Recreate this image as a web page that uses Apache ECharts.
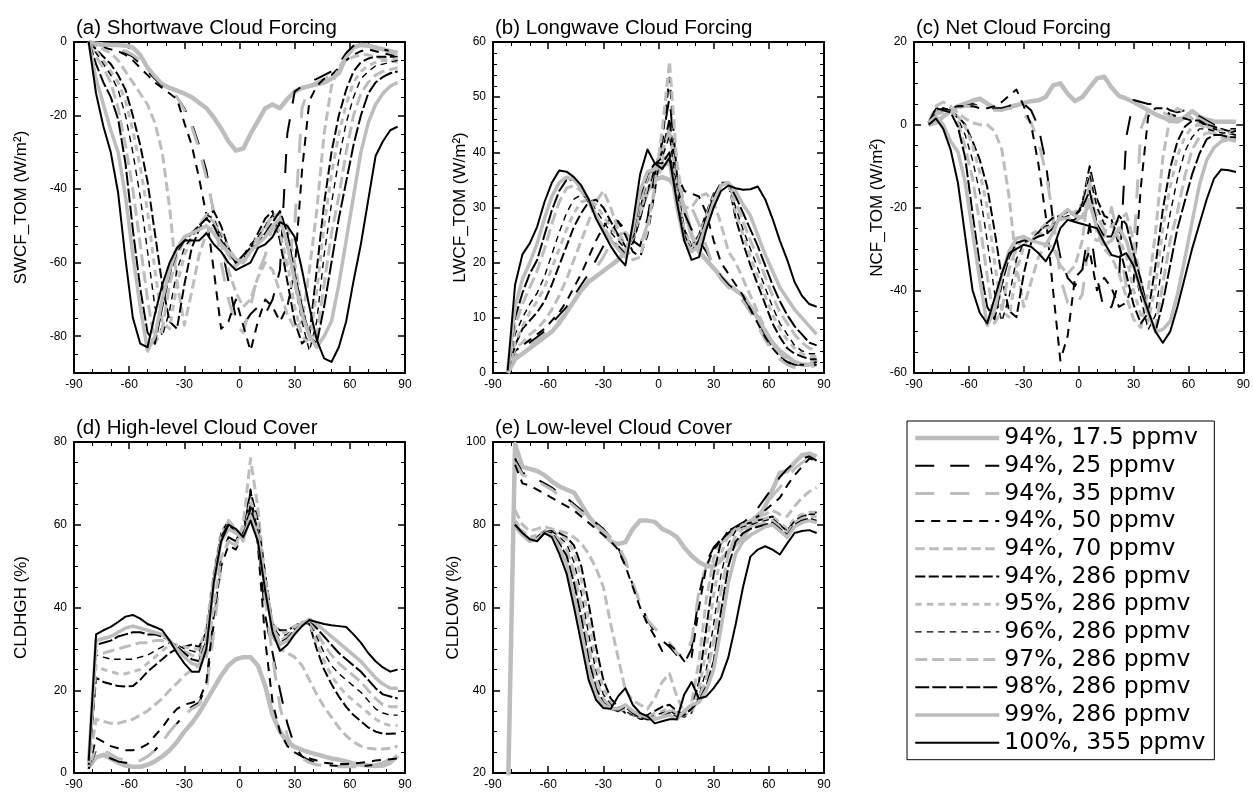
<!DOCTYPE html>
<html>
<head>
<meta charset="utf-8">
<script src="https://cdn.jsdelivr.net/npm/echarts@6/dist/echarts.min.js"></script>
<style>
  html, body { margin: 0; padding: 0; background: #fff; }
  #chart { width: 1253px; height: 798px; }
</style>
</head>
<body>
<div id="chart"></div>
<script>
// latitude of each point
const lats = [-82, -78, -74, -70, -66, -62, -58, -54, -50, -46, -42, -38, -34, -30, -26, -22, -18, -14, -10, -6,
  -2, 2, 6, 10, 14, 18, 22, 26, 30, 34, 38, 42, 46, 50, 54, 58, 62, 66, 70, 74, 78, 82, 86];

const caseNames = ['94%, 17.5 ppmv', '94%, 25 ppmv', '94%, 35 ppmv', '94%, 50 ppmv', '94%, 70 ppmv', '94%, 286 ppmv',
  '95%, 286 ppmv', '96%, 286 ppmv', '97%, 286 ppmv', '98%, 286 ppmv', '99%, 286 ppmv', '100%, 355 ppmv'];

const xTicks = [-90, -60, -30, 0, 30, 60, 90];

// (a) shortwave cloud forcing, one row per case
const swcf = [
  [0, -0.5, -0.7, -0.8, -0.8, -1, -1.5, -3.5, -7, -9.5, -11.5, -12.5, -13.2, -14, -15, -16.5, -18, -20.5, -23.5, -27, -29.5, -29, -25, -21.5, -18, -17, -18, -15.5, -13.5, -12.5, -12, -11.5, -11, -10, -8.5, -4, -1.5, -0.8, -1, -1.5, -2, -2.5, -3],
  [0, -0.5, -1, -1.5, -2, -3, -4, -6, -8, -10, -12, -13.5, -15, -18, -22, -28, -35, -47, -55, -65, -75, -77, -74, -72, -74, -70, -62, -25, -13.5, -12, -11, -10, -9, -8, -6, -3, -1, -1, -1, -1.5, -2, -2.5, -3],
  [0, -0.5, -1, -1.5, -2, -2.5, -3.5, -5, -7, -9.5, -11.5, -13, -15, -18.5, -23, -29, -37, -46, -60, -70, -77, -79, -72, -63, -58, -50, -55, -62, -50, -18, -12, -11, -10, -9, -7, -4, -2, -1, -1, -1.5, -2, -2.5, -3],
  [0, -1, -1.5, -2, -2.5, -3.5, -5, -7, -9, -11, -12.5, -14, -15.5, -22, -28, -37, -47, -62, -78, -76, -70, -77, -84, -76, -70, -72, -76, -72, -62, -35, -16, -12, -10, -9, -7, -5, -3.5, -2.5, -2, -2.5, -3, -3.5, -4],
  [0, -1, -2, -3, -5, -8, -11, -14, -17, -22, -30, -45, -65, -77, -68, -58, -52, -50, -55, -62, -68, -72, -70, -64, -60, -62, -68, -74, -78, -76, -62, -46, -25, -12, -7, -5, -4, -3.5, -3.5, -4, -4.5, -5, -5.5],
  [0, -2, -4, -6, -9, -13, -20, -28, -38, -52, -66, -76, -78, -66, -56, -51, -47, -46, -50, -56, -60, -59, -56, -52, -48, -46, -54, -65, -76, -82, -80, -62, -44, -30, -20, -13, -8, -5.5, -4.5, -4, -4, -4, -4],
  [0, -2.5, -5, -8, -11, -16, -24, -34, -46, -62, -76, -78, -66, -58, -53, -50, -47, -48, -52, -56, -59, -59, -56, -53, -50, -47, -52, -60, -72, -80, -82, -68, -50, -36, -25, -17, -11, -8, -6.5, -5.5, -5, -5, -4.5],
  [0, -3, -6, -9, -13, -20, -30, -42, -57, -72, -80, -73, -62, -56, -53, -50, -47, -48, -53, -57, -60, -58, -55, -53, -50, -47, -50, -56, -66, -76, -84, -76, -58, -44, -32, -22, -15, -10, -8, -6.5, -6, -5.5, -5],
  [0, -4, -7, -11, -18, -28, -40, -55, -70, -82, -78, -66, -58, -54, -52, -50, -47, -49, -54, -58, -61, -59, -57, -54, -51, -47, -47, -50, -60, -72, -80, -80, -66, -52, -42, -30, -20, -14, -11, -9, -8, -7.5, -7],
  [0, -6, -11, -15, -21, -33, -51, -67, -79, -82, -72, -63, -57, -54, -52, -50, -48, -50, -54, -57, -60, -58, -56, -55, -52, -49, -46, -52, -63, -72, -80, -82, -72, -60, -48, -38, -28, -20, -14, -11, -9.5, -8.5, -8],
  [0, -10, -17, -24, -30, -42, -58, -72, -84, -80, -70, -62, -56, -53, -52, -51, -50, -52, -55, -57, -59, -60, -57, -55, -53, -50, -48, -55, -65, -74, -80, -83, -80, -76, -66, -54, -42, -30, -22, -17, -14, -12, -11],
  [0, -14, -23, -30, -41, -59, -75, -82, -83, -74, -66, -60, -56, -54, -54, -54, -52, -55, -57, -60, -62, -61, -60, -56, -55, -53, -49, -50, -53, -62, -72, -81, -86, -87, -83, -76, -65, -55, -43, -31, -27, -24, -23]
];

// (b) longwave cloud forcing
const lwcf = [
  [0, 2.5, 3.5, 4.5, 5.5, 6.5, 7.5, 9, 11, 13, 15, 16.5, 17.5, 18.5, 19.5, 20.5, 22, 24.5, 29, 33, 35, 35.5, 35, 33.5, 30, 25, 22, 20.5, 19, 17.5, 16, 15, 14, 12, 10, 7.5, 5.5, 4, 3, 2, 1.5, 1.5, 2.5],
  [0.5, 3, 4.5, 5.5, 6.5, 7.5, 9, 10.5, 12, 14, 16, 18, 20.5, 23, 25.5, 27.5, 26, 24, 23, 28, 36, 42, 50, 35, 29, 26, 24, 22, 19.5, 17.5, 16, 15, 13.5, 11.5, 9, 6.5, 4.5, 3, 2, 1.5, 1.5, 1.5, 2],
  [0.5, 3, 4, 5, 6, 7, 8, 9.5, 11, 13, 15, 17, 19, 21, 23.5, 25, 25.5, 24, 23, 27, 33, 38, 45, 35, 31, 30, 27, 23, 19, 17, 15.5, 14.5, 13, 11, 8.5, 6, 4, 2.5, 1.5, 1, 1, 1, 1.5],
  [0.5, 4, 5, 6, 7, 8, 9.5, 11, 13, 15.5, 18, 21, 24, 26.5, 28, 27.5, 25, 22, 21, 25, 33, 42, 53.5, 36, 33, 32.5, 32, 29, 24, 20, 18, 16, 14, 11.5, 9, 6.5, 4.5, 3, 2, 1.5, 1.5, 1.5, 1.5],
  [0.5, 4.5, 5.5, 7, 8, 9.5, 11.5, 14, 17, 20.5, 24, 27.5, 31, 33, 30, 26, 23, 20.5, 21, 26, 34, 44, 56.5, 38, 30, 30, 32, 32.5, 31, 27, 22, 20, 17, 14, 11, 8, 5.5, 3.5, 2.5, 2, 1.5, 1.5, 2],
  [0.5, 5, 8, 9.5, 11, 13, 16, 19.5, 23, 26.5, 29, 31, 31.4, 30, 27.5, 25, 23, 23.5, 28, 33, 37, 40, 46, 34, 26, 23, 25, 29, 32.5, 34, 34.5, 28, 23.5, 19.5, 16, 12.5, 9, 6.5, 4.5, 3.5, 3, 2.5, 2.5],
  [0.5, 5.5, 8.5, 11, 13, 15.5, 19, 22.5, 26, 29, 31, 31.5, 30.5, 28.5, 26.5, 24.5, 23, 24, 29, 34, 38, 40, 44, 33, 26, 23, 24.5, 28.5, 32, 34, 34.5, 29, 25, 21, 17.5, 14, 10.5, 8, 6, 4.5, 3.5, 3, 3],
  [0.5, 7, 10, 12.5, 14.5, 17.5, 21.5, 25.5, 29, 31.5, 32.3, 31.5, 29.5, 27.5, 25.5, 24, 22.5, 24, 30, 35, 38, 39, 43, 33, 26, 23, 24, 28.5, 32, 34, 34.5, 30, 26, 22.5, 19, 15.5, 12, 9, 7, 5, 4, 3.5, 3.5],
  [0.5, 8.5, 12.5, 15.5, 18.5, 22.5, 27, 31, 33.5, 34, 33, 31, 28.5, 26.5, 24.5, 23, 22, 24.5, 31, 35.5, 37.5, 37, 39, 32, 25.5, 22.5, 24, 28.5, 32, 34, 34.5, 31, 27.5, 24, 21, 17.5, 14, 11, 9, 7, 5.5, 4.5, 4],
  [0.5, 10, 14.5, 18, 20.5, 25, 29.5, 33, 35, 35, 33.5, 31, 28.5, 26, 24, 23, 21.5, 25, 32, 36, 38, 38, 40, 31, 25, 22, 24, 28, 32, 34.5, 34.5, 32, 29, 26, 23, 19.5, 16, 13, 10.5, 8.5, 7, 5.5, 5],
  [0.5, 12, 17, 20, 23.5, 28, 32, 34.5, 35.5, 35, 33.5, 31.5, 28.5, 26, 24, 22.5, 21, 26, 33, 36.5, 37, 37.5, 38, 30, 24, 22, 23, 27, 31, 34, 34.5, 33, 30.5, 28.5, 25, 21.5, 18.5, 15.5, 13.5, 11.5, 10, 8.5, 7],
  [0.5, 16, 21.5, 23.5, 26.5, 31, 34.5, 36.7, 36.5, 35.5, 34, 31.5, 28, 25.5, 23, 21, 19.5, 27, 36, 40.5, 38, 37, 39, 31, 24, 20.5, 21, 26, 30, 33, 34, 33.5, 33.2, 33.3, 33.8, 31.5, 28, 24, 20.5, 16.5, 14, 12.5, 12]
];

// (c) net cloud forcing
const ncf = [
  [0, 0.5, 2, 3.3, 4.5, 5.1, 5.8, 6.3, 5.1, 4, 3.7, 4.3, 4.7, 5.3, 5.7, 5.9, 6.7, 9.5, 10, 7.5, 5.7, 6.7, 9, 11.2, 11.6, 9, 7, 6.3, 5.5, 4.5, 3.5, 2.5, 1.8, 1, 0.8, 1.8, 3.3, 2, 1.2, 0.8, 0.7, 0.7, 0.7],
  [0.5, 2.5, 3.5, 4, 4.5, 4.5, 5, 4.5, 4, 4, 4, 4.5, 5.5, 5, 3.5, -0.5, -9, -23, -32, -37, -39, -35, -24, -37, -45, -44, -38, -3, 6, 5.5, 5, 5, 4.5, 3.5, 3, 3.5, 3.5, 2, 1, 0, -0.5, -1, -1],
  [0.5, 2.5, 3, 3.5, 4, 4.5, 4.5, 4.5, 4, 3.5, 3.5, 4, 4, 2.5, 0.5, -4, -11.5, -22, -37, -43, -44, -41, -27, -28, -27, -20, -28, -39, -31, -1, 3.5, 3.5, 3, 2, 1.5, 2, 2, 1.5, 0.5, -0.5, -1, -1.5, -1.5],
  [0.5, 3, 3.5, 4, 4.5, 4.5, 4.5, 4, 4, 4.5, 5.5, 7, 8.5, 4.5, 0, -9.5, -22, -40, -57, -51, -37, -35, -30.5, -40, -37, -39.5, -44, -43, -38, -15, 2, 4, 4, 2.5, 2, 1.5, 1, 0.5, 0, -1, -1.5, -2, -2.5],
  [0.5, 3.5, 3.5, 4, 3, 1.5, 0.5, 0, 0, -1.5, -6, -17.5, -34, -44, -38, -32, -29, -29.5, -34, -36, -34, -28, -13.5, -26, -30, -32, -36, -41.5, -47, -49, -40, -26, -8, 2, 4, 3, 1.5, 0, -1, -2, -3, -3.5, -3.5],
  [0.5, 3, 4, 3.5, 2, 0, -4, -8.5, -15, -25.5, -37, -45, -46.5, -36, -28.5, -26, -24, -22.5, -22, -23, -23, -19, -10, -18, -22, -23, -29, -36, -43.5, -48, -45.5, -34, -20.5, -10.5, -4, -0.5, 1, 1, 0, -0.5, -1, -1.5, -1.5],
  [0.5, 3, 3.5, 3, 2, -0.5, -5, -11.5, -20, -33, -45, -46.5, -35.5, -29.5, -26.5, -25.5, -24, -24, -23, -22, -21, -19, -12, -20, -24, -24, -27.5, -31.5, -40, -46, -47.5, -39, -25, -15, -7.5, -3, -0.5, 0, -0.5, -1, -1.5, -2, -1.5],
  [0.5, 4, 4, 3.5, 1.5, -2.5, -8.5, -16.5, -28, -40.5, -47.5, -41.5, -32.5, -28.5, -27.5, -26, -24.5, -24, -23, -22, -22, -19, -12, -20, -24, -24, -26, -27.5, -34, -42, -49.5, -46, -32, -21.5, -13, -6.5, -3, -1, -1, -1.5, -2, -2, -1.5],
  [0.5, 4.5, 5.5, 4.5, 0.5, -5.5, -13, -24, -36.5, -48, -45, -35, -29.5, -27.5, -27.5, -27, -25, -24.5, -23, -22.5, -23.5, -22, -18, -22, -25.5, -24.5, -23, -21.5, -28, -38, -45.5, -49, -38.5, -28, -21, -12.5, -6, -3, -2, -2, -2.5, -3, -3],
  [0.5, 4, 3.5, 3, -0.5, -8, -21.5, -34, -44, -47, -38.5, -32, -28.5, -28, -28, -27, -26.5, -25, -22, -21, -22, -20, -16, -24, -27, -27, -22, -24, -31, -37.5, -45.5, -50, -43, -34, -25, -18.5, -12, -7, -3.5, -2.5, -2.5, -3, -3],
  [0.5, 2, 0, -4, -6.5, -14, -26, -37.5, -48.5, -45, -36.5, -30.5, -27.5, -27, -28, -28.5, -29, -26, -22, -20.5, -22, -22.5, -19, -25, -29, -28, -25, -28, -34, -40, -45.5, -50, -49.5, -47.5, -41, -32.5, -23.5, -14.5, -8.5, -5.5, -4, -3.5, -4],
  [0, 1.5, -1, -6, -14, -27, -40, -45.5, -48, -42, -36, -31, -30, -29, -29.5, -31, -33, -30, -25, -23, -23.5, -24, -24.5, -25, -28.5, -31.5, -32, -31, -34, -40, -45, -50, -52.7, -50, -44, -37, -30, -24, -18, -13, -10.8, -11, -11.4]
];

// (d) high-level cloud cover
const cldhgh = [
  [1.5, 3.8, 4.4, 3.5, 2.5, 1.8, 1.5, 1.5, 2, 2.8, 4, 5.5, 7.5, 10, 12, 14.5, 17.5, 20.5, 23.5, 26, 27.5, 28, 28, 26, 21, 14, 10, 7.5, 6.3, 5.6, 5, 4.5, 4, 3.5, 3.2, 2.8, 2.3, 2, 1.8, 1.7, 1.8, 2.5, 4.2],
  [1, 5.5, 4.5, 3.5, 2.8, 2.5, 2.5, 3, 4, 5.5, 7.5, 10, 12, 14, 16, 17, 21, 36, 52, 57, 56, 60, 66, 56, 38, 29, 20, 12, 6.5, 4, 3, 2.5, 2, 1.8, 1.7, 1.6, 1.6, 1.6, 1.8, 2, 2.5, 3, 4],
  [1, 6.5, 5.5, 4.5, 3.5, 3, 2.8, 3, 4, 5.5, 7.5, 10, 12, 14, 15.5, 16.5, 20, 34, 50, 56, 55, 58, 64, 57, 42, 28, 16, 9, 5, 3.5, 2.5, 2, 1.8, 1.6, 1.5, 1.5, 1.5, 1.5, 1.7, 2, 2.5, 3.5, 4.5],
  [1, 8.5, 7.5, 6.5, 6, 5.5, 5.5, 6, 7, 9, 11, 13.5, 15.5, 16.5, 17, 17.5, 22, 38, 50, 55, 54, 58, 68.5, 55, 32, 17, 10, 6.5, 5, 4, 3.5, 3, 2.5, 2.3, 2.2, 2.2, 2.3, 2.5, 2.7, 3, 3.2, 3.3, 3.5],
  [1.5, 13, 12.5, 12, 12, 12.5, 13, 14, 15, 16.5, 18, 20, 21.7, 23.5, 25, 26, 28, 40, 52, 56, 55, 60, 76, 64, 46, 33, 30, 29, 28, 26, 22.5, 19, 16, 13.5, 11, 9, 7.5, 6.5, 6, 5.8, 5.8, 6, 6.5],
  [2, 23, 22, 21.5, 21, 20.9, 21, 22.5, 24.5, 26, 27.5, 29, 30, 30.5, 31, 30.5, 34, 47, 57, 60, 58, 57, 68, 61, 48, 36, 34.5, 34.5, 35.5, 36.5, 36, 30, 25, 21.5, 18.5, 16, 14, 12.5, 11, 10, 9.5, 9.5, 9.6],
  [2.5, 26, 25, 24.5, 24, 24, 24.5, 25, 26.5, 28, 29.5, 31, 31, 30.5, 30, 30, 35, 48, 58, 61, 59, 56, 66, 60, 47, 36, 34, 34, 35.5, 36.5, 36.5, 31.5, 27, 23.5, 21, 19, 17.5, 16, 14.5, 13, 12, 11.5, 11.5],
  [2.5, 28.5, 28, 27.5, 27.5, 27.5, 27.5, 28, 28.5, 29.5, 30.5, 31.5, 31, 30, 29.5, 29, 34, 48, 58, 61, 58, 57, 65, 59, 46, 35.5, 33, 33.5, 35, 36.3, 36.8, 33, 29, 26, 24, 22.5, 21, 19.5, 17.5, 15.5, 14.5, 14, 14],
  [2.5, 29.5, 29, 29.5, 30, 30.5, 31, 31.5, 31.5, 32, 32, 31.5, 30.5, 29.5, 28.5, 28, 33, 47, 57, 61, 59, 57, 63, 58, 45, 35, 32, 33, 35, 36.3, 37, 34, 31, 28.5, 26.5, 25, 23.5, 22, 20, 18, 16.5, 16, 16],
  [3, 31, 31.5, 32, 33, 33.5, 34, 34, 33.5, 33.5, 33, 32, 30.5, 29, 27.5, 27, 32, 47, 57, 60, 58, 57, 64, 58, 45, 35, 31.5, 32.5, 34.5, 36, 37, 35, 33, 31, 29, 27.5, 26, 24.5, 22.5, 20.5, 19, 18.5, 18],
  [3, 32, 32.5, 33, 34, 35, 35.5, 35, 34.5, 34, 33.5, 32, 30, 28, 26.5, 26, 31, 46, 56, 59, 58, 56.5, 62, 57, 45, 35, 31, 32, 34, 36, 37.2, 36, 34.5, 33, 31.5, 30, 28.5, 27, 25, 23, 21.5, 20.5, 20.5],
  [3, 33.5, 34.5, 35.3, 36.5, 37.8, 38.2, 37.3, 36, 35.3, 34.5, 32, 29, 26.5, 24.5, 24.5, 30, 46, 56, 60, 59, 57, 61, 56, 44, 34, 29.5, 31, 33.5, 35.5, 37, 36.5, 36, 35.7, 35.5, 35.3, 33.5, 31.5, 29, 27, 25.5, 24.5, 25]
];

// (e) low-level cloud cover
const cldlow = [
  [12, 99.5, 94, 93.5, 93, 92, 90.5, 89.3, 88.5, 87.8, 85, 82, 80, 78, 76, 75.3, 75.8, 79, 81, 81, 80.7, 79, 78.2, 77, 74.5, 72.5, 71, 70, 70, 71.5, 73.5, 75.3, 77, 79.5, 81.5, 84.5, 88.5, 92.5, 93, 95, 96.8, 97.2, 96.5],
  [null, 96, 92.5, 92, 91, 90, 89, 87.5, 86.5, 85, 83.5, 82, 80.5, 79, 77, 74.5, 70.5, 65.5, 61, 57, 54, 52, 50.5, 48.5, 46.5, 50, 63, 71, 74.5, 76.5, 78, 79.5, 80.5, 82, 84, 86.5, 89, 91.5, 93.5, 95, 96, 96.5, 95.5],
  [null, 95, 92, 91.5, 90.5, 89.5, 88.5, 87, 86, 84.5, 83, 81.5, 80, 78.5, 77, 75, 71.5, 66, 61, 57, 55, 53, 51.5, 49, 48, 52, 64, 70, 73, 75.5, 77.5, 79, 80, 81, 82.5, 84.5, 87, 89, 91.5, 93.5, 95, 96, 95],
  [null, 94.5, 90, 89.5, 88.5, 87.5, 86.5, 85.5, 84.5, 83.5, 82, 80.5, 79, 77.5, 76, 74, 70, 65, 60, 56, 53, 49.5, 51, 49.5, 47, 48, 60, 70, 74, 76, 78, 79.5, 80.5, 81, 82, 83.5, 85, 86.5, 89.5, 92, 94, 96, 95.5],
  [null, 83.5, 80, 78.5, 79, 79.5, 79, 78.5, 78, 77, 75.5, 73, 69.5, 65, 56, 48, 40, 37.5, 36.5, 35.5, 38, 42, 44, 38.5, 34.5, 37, 47, 62, 72, 75.5, 77, 78.5, 80, 81, 82, 82.5, 83.5, 82.5, 82, 84.5, 86.5, 88, 89],
  [null, 80.5, 78, 76.5, 77, 78.5, 78.5, 78, 77, 75, 70, 61, 50.5, 42.5, 38, 36, 34.5, 34, 33.5, 34, 35, 36, 36.5, 35, 34, 35.5, 42, 55, 68, 76, 78.5, 79.5, 80, 80.5, 81, 81.5, 82, 80, 78.5, 81, 82, 82.5, 83],
  [null, 81, 78.5, 77, 77.5, 78.5, 78.5, 77.5, 76.5, 73.5, 67, 57, 47, 40.5, 37, 36, 35, 34, 33.5, 33.5, 34.5, 35, 35.5, 34.5, 34, 35, 40, 50, 63, 73, 77.5, 79, 80, 80.5, 81, 81.5, 82, 80.5, 79, 81.5, 82.5, 83, 83],
  [null, 80.5, 78, 76.5, 77, 78.5, 78.5, 77, 75.5, 71, 63.5, 53.5, 44.5, 39, 36.5, 35.5, 35, 34, 33, 33, 34, 34.5, 35, 34, 33.5, 34.5, 38.5, 45, 56, 68, 75.5, 78.5, 79.5, 80, 80.5, 81, 81.5, 80, 78.5, 81, 82, 82.5, 82.5],
  [null, 80.5, 78, 76.5, 77, 78.5, 78, 76.5, 74, 68.5, 60.5, 50.5, 42.5, 38, 36, 35, 35.5, 34.5, 33.5, 33, 33.5, 34, 35, 34, 34, 35, 38, 43, 52, 64, 73, 77.5, 79, 79.5, 80, 80.5, 81, 79.5, 78, 80.5, 81.5, 82, 82],
  [null, 80, 77.5, 76, 76.5, 78.3, 78, 75.5, 72.5, 66, 57.5, 47.5, 40.5, 37, 35.5, 35, 36, 34.5, 33.5, 33, 33, 33.5, 34.5, 33.5, 34, 35.5, 37.5, 41, 47, 59, 70, 76, 78, 79, 79.5, 80, 80.5, 79, 77.5, 80, 81, 81.5, 81],
  [null, 79.5, 77.5, 76, 76.5, 78, 77.5, 74.5, 70.5, 63, 54.5, 45, 39, 36.5, 35.5, 35.5, 36.5, 35, 34, 33.5, 33, 33.5, 34, 33, 35, 36.5, 37, 40, 45, 55, 66, 73, 76, 77.5, 78.5, 79.5, 80, 78.5, 77, 79.5, 80.5, 81, 80.5],
  [null, 80, 78, 76.5, 76, 78, 77, 73, 68.2, 60.2, 51.4, 42.5, 37.7, 35.7, 35.5, 38.5, 40.5, 36.5, 34.5, 33.7, 32, 32.5, 33, 33, 39, 42, 38, 38.5, 40.5, 43, 48, 56, 65, 72.3, 74, 74.8, 74, 72.8, 75.5, 78, 78.5, 78.7, 78]
];

const FONT = 'Liberation Sans, Arial, Helvetica, sans-serif';
const GRAY = '#bdbdbd';

// line look of each case, same order as caseNames
const caseStyles = [
  { color: GRAY, width: 4.5, type: 'solid' },
  { color: '#000', width: 2, type: [19, 16] },
  { color: GRAY, width: 3, type: [19, 16] },
  { color: '#000', width: 2, type: [9, 7] },
  { color: GRAY, width: 3, type: [9.5, 4.5] },
  { color: '#000', width: 2, type: [10, 3.5] },
  { color: GRAY, width: 3, type: [6.5, 5] },
  { color: '#000', width: 1.4, type: [6.5, 5] },
  { color: GRAY, width: 3, type: [12, 5] },
  { color: '#000', width: 2, type: [14, 3] },
  { color: GRAY, width: 3.5, type: 'solid' },
  { color: '#000', width: 2, type: 'solid' }
];

const panels = [
  { title: '(a) Shortwave Cloud Forcing', name: 'SWCF_TOM (W/m\u00b2)', rows: swcf, left: 74, top: 42, min: -90, max: 0, step: 20, minor: 5, gap: 44,
    majors: [-80, -60, -40, -20, 0], fills: [-70, -50, -30, -10] },
  { title: '(b) Longwave Cloud Forcing', name: 'LWCF_TOM (W/m\u00b2)', rows: lwcf, left: 493, top: 42, min: 0, max: 60, step: 10, minor: 2, gap: 24 },
  { title: '(c) Net Cloud Forcing', name: 'NCF_TOM (W/m\u00b2)', rows: ncf, left: 914, top: 42, min: -60, max: 20, step: 20, minor: 5, gap: 28 },
  { title: '(d) High-level Cloud Cover', name: 'CLDHGH (%)', rows: cldhgh, left: 74, top: 442, min: 0, max: 80, step: 20, minor: 5, gap: 44 },
  { title: '(e) Low-level Cloud Cover', name: 'CLDLOW (%)', rows: cldlow, left: 493, top: 442, min: 20, max: 100, step: 20, minor: 5, gap: 30 }
];

const SIZE = 331;
const lineBlack = { show: true, onZero: false, lineStyle: { color: '#000', width: 2 } };
const majorTick = { show: true, inside: true, length: 7, lineStyle: { color: '#000', width: 1.5 } };
const minorTickStyle = { show: true, length: 4, lineStyle: { color: '#000', width: 1 } };
const labelStyle = { color: '#000', fontSize: 12, fontFamily: FONT };

const grid = [], xAxis = [], yAxis = [], title = [], series = [];

panels.forEach((p, gi) => {
  grid.push({ left: p.left, top: p.top, width: SIZE, height: SIZE });
  title.push({
    text: p.title, left: p.left - 3, top: p.top - 29,
    textStyle: { fontSize: 20.5, fontWeight: 'normal', fontFamily: FONT, color: '#000' }
  });

  const xi = xAxis.length;
  ['bottom', 'top'].forEach(pos => {
    xAxis.push({
      gridIndex: gi, type: 'value', position: pos, min: -90, max: 90, interval: 30,
      axisLine: lineBlack, axisTick: majorTick,
      minorTick: Object.assign({ splitNumber: 3 }, minorTickStyle),
      axisLabel: pos === 'bottom'
        ? Object.assign({ margin: 6, customValues: xTicks }, labelStyle)
        : { show: false },
      splitLine: { show: false }, minorSplitLine: { show: false }
    });
  });

  const yi = yAxis.length;
  ['left', 'right'].forEach(pos => {
    const ax = {
      gridIndex: gi, type: 'value', position: pos, min: p.min, max: p.max,
      axisLine: lineBlack, splitLine: { show: false }, minorSplitLine: { show: false },
      axisLabel: pos === 'left' ? Object.assign({ margin: 7 }, labelStyle) : { show: false }
    };
    if (pos === 'left') {
      Object.assign(ax, {
        name: p.name, nameLocation: 'middle', nameRotate: 90, nameGap: p.gap,
        nameTextStyle: { fontSize: 17, color: '#000', fontFamily: FONT }
      });
    }
    if (p.majors) {
      // ticks every 10, labels and long ticks only on the multiples of 20
      ax.interval = 10;
      ax.axisTick = Object.assign({ customValues: p.majors }, majorTick);
      if (pos === 'left') ax.axisLabel.customValues = p.majors;
      ax.minorTick = Object.assign({ splitNumber: 2 }, minorTickStyle);
    } else {
      ax.interval = p.step;
      ax.axisTick = majorTick;
      ax.minorTick = Object.assign({ splitNumber: p.step / p.minor }, minorTickStyle);
    }
    yAxis.push(ax);
  });
  if (p.fills) {
    // short ticks on the odd tens of panel (a)
    ['left', 'right'].forEach(pos => {
      yAxis.push({
        gridIndex: gi, type: 'value', position: pos, min: p.min, max: p.max, interval: 10,
        axisLine: { show: false, onZero: false }, axisLabel: { show: false }, splitLine: { show: false },
        axisTick: { show: true, inside: true, length: 4, customValues: p.fills, lineStyle: { color: '#000', width: 1 } }
      });
    });
  }

  p.rows.forEach((row, ci) => {
    const st = caseStyles[ci];
    series.push({
      type: 'line', name: caseNames[ci], xAxisIndex: xi, yAxisIndex: yi,
      data: lats.map((lat, k) => [lat, row[k]]),
      symbol: 'none', showSymbol: false, connectNulls: false, clip: true, silent: true,
      lineStyle: { color: st.color, width: st.width, type: st.type, cap: 'butt', join: 'round' },
      itemStyle: { color: st.color }
    });
  });
});

const chart = echarts.init(document.getElementById('chart'), null, { renderer: 'canvas' });
chart.setOption({
  backgroundColor: '#fff',
  animation: false,
  title: title,
  grid: grid,
  xAxis: xAxis,
  yAxis: yAxis,
  legend: {
    data: caseNames, orient: 'vertical', left: 907, top: 421,
    itemWidth: 84, itemHeight: 14, itemGap: 3.7, selectedMode: false,
    padding: [5, 9, 5, 6], borderColor: '#000', borderWidth: 1,
    itemStyle: { opacity: 0 },
    lineStyle: { width: 'inherit', type: 'inherit', color: 'inherit' },
    textStyle: { fontSize: 23.5, lineHeight: 24, color: '#000', fontFamily: 'DejaVu Sans, Liberation Sans, sans-serif' }
  },
  series: series
});
</script>
</body>
</html>
